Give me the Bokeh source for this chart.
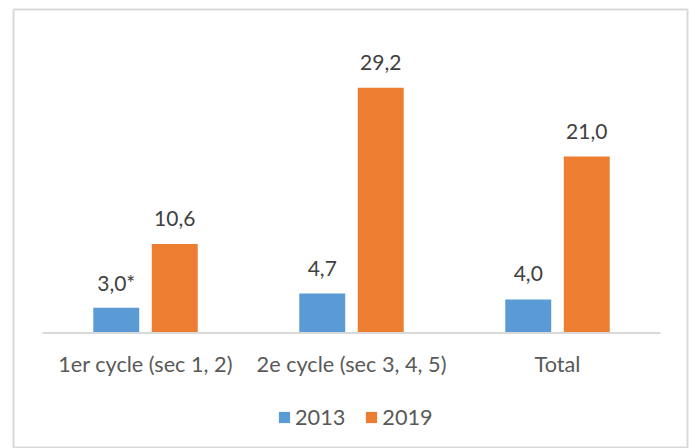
from bokeh.plotting import figure
from bokeh.models import ColumnDataSource, Range1d, Legend, LegendItem
from bokeh.transform import dodge
from bokeh.core.properties import value
from bokeh.embed import file_html
from bokeh.resources import INLINE

categories = ["1er cycle (sec 1, 2)", "2e cycle (sec 3, 4, 5)", "Total"]
series_names = ["2013", "2019"]
values_2013 = [3.0, 4.7, 4.0]
values_2019 = [10.6, 29.2, 21.0]
labels_2013 = ["3,0*", "4,7", "4,0"]
labels_2019 = ["10,6", "29,2", "21,0"]

BLUE = "#5B9BD5"
ORANGE = "#ED7D31"
FONT = "Lato"

src = ColumnDataSource(dict(
    x=[i + 0.5 for i in range(len(categories))],
    cat=categories,
    y13=values_2013,
    y19=values_2019,
    l13=labels_2013,
    l19=labels_2019,
    zero=[0] * len(categories),
))

FW, FH = 674, 439
p = figure(width=691, height=448, output_backend="svg", toolbar_location=None,
           x_range=Range1d(-29 / 206, (FW - 29) / 206),
           y_range=Range1d(-(FH - 323.5) / 8.4, 323.5 / 8.4),
           min_border_left=13, min_border_right=4, min_border_top=9, min_border_bottom=0)
p.axis.visible = False
p.grid.visible = False
p.outline_line_color = "#D9D9D9"
p.outline_line_width = 2
p.background_fill_color = "white"
p.border_fill_color = "white"

off = 0.142
bw = 0.223
r13 = p.vbar(x=dodge("x", -off), top="y13", width=bw, source=src, fill_color=BLUE, line_color=None)
r19 = p.vbar(x=dodge("x", off), top="y19", width=bw, source=src, fill_color=ORANGE, line_color=None)

# baseline (category axis line)
p.segment(x0=[0], y0=[0], x1=[len(categories)], y1=[0], line_color="#D9D9D9", line_width=2)

# value labels
p.text(x=dodge("x", -off), y="y13", text="l13", source=src, text_font=value(FONT),
       text_font_size="21px", text_align="center", text_baseline="middle",
       y_offset=-25.5, text_color="#404040")
p.text(x=dodge("x", off), y="y19", text="l19", source=src, text_font=value(FONT),
       text_font_size="21px", text_align="center", text_baseline="middle",
       y_offset=-25.5, text_color="#404040")

# category labels
p.text(x="x", y="zero", text="cat", source=src, text_font=value(FONT),
       text_font_size="21.7px", text_align="center", text_baseline="middle",
       y_offset=30.5, text_color="#595959")

legend = Legend(items=[LegendItem(label=series_names[0], renderers=[r13]),
                       LegendItem(label=series_names[1], renderers=[r19])],
                location=(264, 18), orientation="horizontal",
                glyph_width=14, glyph_height=14, label_standoff=4, spacing=19,
                padding=0, margin=0, border_line_color=None, background_fill_alpha=0,
                label_text_font=FONT, label_text_font_size="21.7px", label_text_color="#595959")
p.add_layout(legend)

open("out.html", "w").write(file_html(p, INLINE))
